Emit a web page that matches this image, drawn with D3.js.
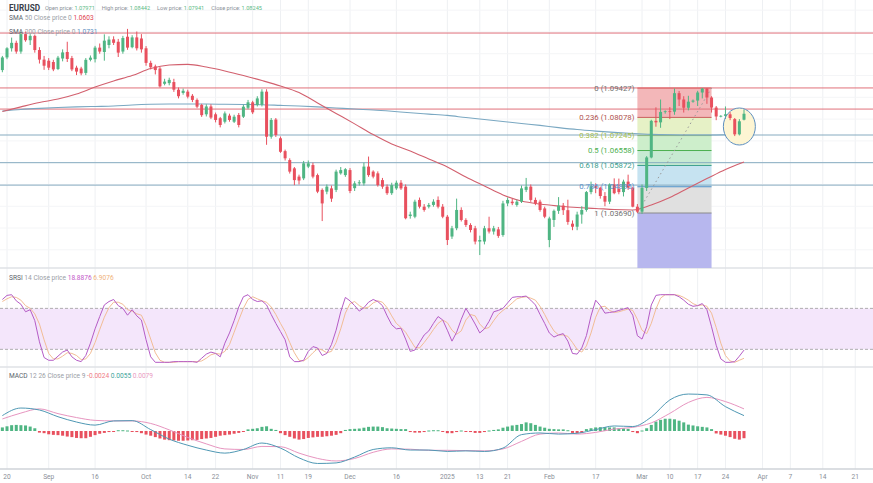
<!DOCTYPE html>
<html>
<head>
<meta charset="utf-8">
<script src="https://cdn.jsdelivr.net/npm/d3@7"></script>
<style>
  body { margin: 0; background: #fff; }
  svg text { font-family: Roboto, "Noto Sans", sans-serif; }
</style>
</head>
<body>
<svg id="chart" width="873" height="483"></svg>
<script>
// EURUSD daily, 19 Aug 2024 .. 28 Mar 2025

// bar calendar: weekdays, minus two closed days, plus the short Sunday sessions after the DST switch
const firstBarDate = "2024-08-19";
const holidays = ["2024-12-25", "2025-01-01"];
const sundaySessions = ["2025-03-09", "2025-03-16", "2025-03-23"];

// open, high, low, close per bar
const ohlc = [
  [1.1025,1.1090,1.1015,1.1083],[1.1083,1.1130,1.1075,1.1125],[1.1125,1.1174,1.1110,1.1150],[1.1150,1.1160,1.1100,1.1110],
  [1.1110,1.1201,1.1100,1.1190],[1.1190,1.1202,1.1155,1.1162],[1.1162,1.1190,1.1140,1.1182],[1.1182,1.1188,1.1105,1.1117],
  [1.1117,1.1130,1.1055,1.1073],[1.1073,1.1090,1.1026,1.1045],[1.1068,1.1080,1.1025,1.1036],[1.1062,1.1072,1.1020,1.1028],
  [1.1030,1.1090,1.1025,1.1082],[1.1078,1.1120,1.1065,1.1106],[1.1108,1.1155,1.1062,1.1076],[1.1080,1.1090,1.1020,1.1028],
  [1.1036,1.1045,1.1002,1.1018],[1.1032,1.1040,1.1001,1.1010],[1.1012,1.1080,1.1002,1.1072],[1.1072,1.1092,1.1065,1.1082],
  [1.1075,1.1136,1.1060,1.1128],[1.1128,1.1147,1.1100,1.1110],[1.1108,1.1189,1.1068,1.1160],[1.1140,1.1180,1.1125,1.1165],
  [1.1166,1.1180,1.1140,1.1150],[1.1155,1.1168,1.1085,1.1105],[1.1110,1.1182,1.1100,1.1172],[1.1178,1.1214,1.1118,1.1128],
  [1.1130,1.1185,1.1125,1.1175],[1.1175,1.1202,1.1115,1.1125],[1.1170,1.1190,1.1105,1.1120],[1.1125,1.1135,1.1045,1.1058],
  [1.1058,1.1068,1.1028,1.1038],[1.1042,1.1050,1.1005,1.1025],[1.1032,1.1040,1.0945,1.0950],[1.0962,1.0985,1.0955,1.0972],
  [1.0965,1.0990,1.0955,1.0980],[1.0970,1.0985,1.0925,1.0935],[1.0935,1.0945,1.0895,1.0905],[1.0920,1.0940,1.0912,1.0930],
  [1.0926,1.0935,1.0895,1.0903],[1.0907,1.0915,1.0878,1.0888],[1.0888,1.0895,1.0850,1.0857],[1.0865,1.0870,1.0810,1.0818],
  [1.0822,1.0868,1.0812,1.0858],[1.0858,1.0868,1.0800,1.0807],[1.0822,1.0830,1.0785,1.0796],[1.0804,1.0810,1.0762,1.0773],
  [1.0788,1.0835,1.0780,1.0826],[1.0816,1.0825,1.0788,1.0796],[1.0788,1.0820,1.0782,1.0811],[1.0819,1.0828,1.0762,1.0773],
  [1.0811,1.0866,1.0805,1.0857],[1.0852,1.0888,1.0845,1.0877],[1.0877,1.0884,1.0823,1.0831],[1.0865,1.0905,1.0858,1.0895],
  [1.0866,1.0937,1.0858,1.0926],[1.0926,1.0937,1.0682,1.0719],[1.0719,1.0805,1.0710,1.0796],[1.0798,1.0805,1.0718,1.0727],
  [1.0712,1.0720,1.0645,1.0650],[1.0653,1.0660,1.0610,1.0620],[1.0612,1.0620,1.0550,1.0559],[1.0574,1.0580,1.0497,1.0520],
  [1.0536,1.0545,1.0500,1.0518],[1.0528,1.0608,1.0520,1.0597],[1.0582,1.0610,1.0575,1.0597],[1.0589,1.0600,1.0528,1.0536],
  [1.0543,1.0550,1.0460,1.0467],[1.0475,1.0482,1.0332,1.0413],[1.0467,1.0500,1.0455,1.0490],[1.0482,1.0495,1.0420,1.0435],
  [1.0475,1.0568,1.0465,1.0559],[1.0551,1.0580,1.0545,1.0566],[1.0543,1.0575,1.0535,1.0570],[1.0566,1.0575,1.0460,1.0470],
  [1.0483,1.0515,1.0470,1.0505],[1.0505,1.0520,1.0495,1.0510],[1.0505,1.0600,1.0495,1.0582],[1.0582,1.0628,1.0535,1.0543],
  [1.0559,1.0565,1.0528,1.0536],[1.0551,1.0560,1.0490,1.0497],[1.0520,1.0530,1.0480,1.0490],[1.0490,1.0500,1.0452,1.0460],
  [1.0460,1.0508,1.0452,1.0497],[1.0482,1.0518,1.0475,1.0508],[1.0508,1.0520,1.0475,1.0482],[1.0490,1.0500,1.0340,1.0345],
  [1.0355,1.0375,1.0343,1.0362],[1.0352,1.0430,1.0345,1.0421],[1.0429,1.0440,1.0390,1.0398],[1.0398,1.0410,1.0375,1.0383],
  [1.0398,1.0415,1.0390,1.0406],[1.0406,1.0432,1.0398,1.0421],[1.0429,1.0445,1.0390,1.0398],[1.0398,1.0410,1.0345,1.0352],
  [1.0352,1.0360,1.0222,1.0245],[1.0261,1.0310,1.0250,1.0299],[1.0299,1.0435,1.0290,1.0383],[1.0383,1.0395,1.0330,1.0337],
  [1.0337,1.0345,1.0305,1.0314],[1.0314,1.0322,1.0280,1.0291],[1.0299,1.0310,1.0225,1.0238],[1.0238,1.0265,1.0176,1.0245],
  [1.0238,1.0310,1.0225,1.0299],[1.0299,1.0352,1.0275,1.0284],[1.0284,1.0310,1.0270,1.0299],[1.0294,1.0305,1.0255,1.0264],
  [1.0268,1.0425,1.0260,1.0413],[1.0413,1.0440,1.0400,1.0429],[1.0421,1.0435,1.0405,1.0414],[1.0406,1.0430,1.0398,1.0421],
  [1.0421,1.0495,1.0415,1.0482],[1.0475,1.0530,1.0465,1.0490],[1.0490,1.0500,1.0420,1.0429],[1.0429,1.0440,1.0405,1.0413],
  [1.0421,1.0430,1.0375,1.0383],[1.0390,1.0398,1.0345,1.0352],[1.0245,1.0352,1.0212,1.0344],[1.0337,1.0385,1.0305,1.0379],
  [1.0379,1.0442,1.0365,1.0403],[1.0403,1.0415,1.0360,1.0382],[1.0382,1.0430,1.0315,1.0328],[1.0320,1.0335,1.0290,1.0306],
  [1.0306,1.0375,1.0290,1.0362],[1.0362,1.0400,1.0320,1.0383],[1.0383,1.0470,1.0375,1.0465],[1.0465,1.0513,1.0455,1.0492],
  [1.0492,1.0505,1.0460,1.0485],[1.0485,1.0490,1.0435,1.0447],[1.0447,1.0465,1.0400,1.0421],[1.0421,1.0505,1.0410,1.0500],
  [1.0500,1.0528,1.0455,1.0460],[1.0480,1.0527,1.0455,1.0465],[1.0465,1.0522,1.0445,1.0513],[1.0513,1.0545,1.0475,1.0485],
  [1.0485,1.0490,1.0395,1.0398],[1.0398,1.0410,1.0369,1.0375],[1.0375,1.0500,1.0365,1.0484],[1.0484,1.0630,1.0470,1.0624],
  [1.0624,1.0797,1.0620,1.0792],[1.0792,1.0854,1.0765,1.0785],[1.0785,1.0890,1.0760,1.0833],[1.0833,1.0840,1.0825,1.0836],
  [1.0836,1.0855,1.0800,1.0834],[1.0834,1.0940,1.0820,1.0919],[1.0919,1.0929,1.0860,1.0890],[1.0890,1.0905,1.0830,1.0852],
  [1.0852,1.0907,1.0840,1.0880],[1.0880,1.0890,1.0875,1.0885],[1.0885,1.0930,1.0860,1.0922],[1.0922,1.09427,1.0895,1.0940],
  [1.0940,1.0942,1.0870,1.0899],[1.0899,1.0905,1.0830,1.0853],[1.0853,1.0860,1.0795,1.0812],[1.0812,1.0818,1.0808,1.0815],
  [1.0815,1.0858,1.0800,1.0822],[1.0822,1.0832,1.0795,1.0805],[1.0800,1.0805,1.0722,1.0730],[1.0730,1.0800,1.0725,1.0790],
  [1.07971,1.08442,1.07941,1.08245]
];

// moving averages, read at every 4th bar
const sampleEvery = 4;
const sma50 = [1.0835,1.0856,1.0876,1.0892,1.0915,1.0947,1.0975,1.1000,1.1032,1.1048,1.1051,1.1039,1.1021,1.1000,1.0977,1.0952,1.0922,1.0874,1.0826,1.0778,1.0729,1.0686,1.0654,1.0617,1.0580,1.0534,1.0493,1.0452,1.0424,1.0410,1.0401,1.0394,1.0390,1.0385,1.0383,1.0406,1.0440,1.0484,1.0527,1.0569,1.0603];
const sma200 = [1.0837,1.0844,1.0849,1.0853,1.0856,1.0858,1.0860,1.0865,1.0868,1.0869,1.0869,1.0869,1.0868,1.0867,1.0866,1.0863,1.0860,1.0856,1.0851,1.0846,1.0842,1.0836,1.0829,1.0823,1.0817,1.0807,1.0798,1.0789,1.0780,1.0771,1.0761,1.0752,1.0745,1.0739,1.0734,1.0730,1.0728,1.0727,1.0727,1.0728,1.0731];

// horizontal support / resistance lines
const levelPrices = [1.1195, 1.0943, 1.0846, 1.0727, 1.0600, 1.0497];
const levelKinds = ["res", "res", "res", "sup", "sup", "sup"];

// fibonacci retracement (28 Feb low -> 20 Mar)
const fibStartDate = "2025-02-28";
const fibEndDate = "2025-03-20";
const fibRatios = ["0", "0.236", "0.382", "0.5", "0.618", "0.786", "1"];
const fibPrices = [1.09427, 1.08078, 1.07245, 1.06558, 1.05872, 1.04895, 1.03690];

// the ring drawn round the last few candles
const ringDate = "2025-03-27";
const ringPrice = 1.0766;

// stochastic RSI, per bar
const srsiK = [93,99,100,91,86,75,78,62,31,8,4,4,10,16,19,9,4,2,11,29,50,68,85,90,93,84,80,70,78,69,63,34,9,1,1,1,1,2,2,2,2,2,1,7,13,16,14,9,29,44,62,82,97,100,93,90,91,85,71,58,46,34,9,2,2,4,17,24,22,11,14,27,48,75,96,91,84,76,81,89,93,90,84,69,56,50,51,35,17,19,30,41,47,58,68,63,48,32,45,64,80,69,57,44,50,61,75,77,80,88,96,97,97,98,92,85,71,58,44,38,41,43,32,14,13,22,40,69,92,84,73,74,75,77,79,81,70,40,35,53,85,99,100,100,100,100,97,92,86,83,84,87,78,53,26,6,1,1,2,10,18.8876];
const srsiD = [90,94,97,96,92,84,80,72,57,34,14,6,6,10,15,14,11,5,6,14,30,49,67,81,89,89,86,78,76,72,70,55,35,15,4,1,1,1,2,2,2,2,2,3,7,12,14,13,17,27,45,63,80,93,97,94,91,89,82,71,58,46,30,15,4,3,8,15,21,19,15,17,30,50,73,87,90,84,80,82,88,91,89,81,69,58,52,45,34,23,22,30,39,49,58,63,59,48,42,47,63,71,69,57,50,52,62,71,77,82,88,94,96,97,95,92,83,71,58,47,41,41,39,30,20,16,25,44,67,82,83,77,74,75,77,79,77,64,48,43,58,79,95,100,100,100,99,96,92,87,84,85,83,73,52,29,11,3,1,4,6.9076];
const srsiBand = [20, 80];

// MACD 12 26 9: lines read at every 4th bar, histogram per bar
const macdLine = [0.0055,0.0082,0.0075,0.0051,0.0032,0.0021,0.0036,0.0037,0.0005,-0.0029,-0.0051,-0.0068,-0.0079,-0.0066,-0.0043,-0.0061,-0.0096,-0.0116,-0.0114,-0.0093,-0.0066,-0.0060,-0.0068,-0.0068,-0.0073,-0.0071,-0.0073,-0.0061,-0.0013,-0.0007,-0.0011,-0.0008,0.0005,0.0018,0.0016,0.0050,0.0111,0.0132,0.0129,0.0087,0.0055];
const signalLine = [0.0043,0.0064,0.0079,0.0062,0.0048,0.0038,0.0036,0.0036,0.0027,0.0004,-0.0023,-0.0046,-0.0064,-0.0066,-0.0055,-0.0056,-0.0079,-0.0098,-0.0107,-0.0098,-0.0076,-0.0064,-0.0065,-0.0069,-0.0069,-0.0070,-0.0071,-0.0064,-0.0037,-0.0011,-0.0007,-0.0011,-0.0005,0.0007,0.0013,0.0029,0.0063,0.0102,0.0120,0.0105,0.0079];
const macdHist = [0.0011,0.0015,0.0019,0.0020,0.0019,0.0018,0.0014,0.0008,-0.0004,-0.0006,-0.0010,-0.0012,-0.0013,-0.0015,-0.0018,-0.0020,-0.0023,-0.0024,-0.0024,-0.0019,-0.0013,-0.0008,-0.0005,-0.0002,-0.0001,0.0001,0.0001,0,-0.0001,-0.0002,-0.0006,-0.0011,-0.0015,-0.0020,-0.0025,-0.0029,-0.0031,-0.0032,-0.0033,-0.0033,-0.0032,-0.0031,-0.0030,-0.0027,-0.0025,-0.0023,-0.0019,-0.0015,-0.0013,-0.0011,-0.0008,-0.0005,-0.0001,0.0004,0.0006,0.0008,0.0013,0.0015,0.0006,0.0002,-0.0006,-0.0013,-0.0019,-0.0025,-0.0029,-0.0027,-0.0023,-0.0021,-0.0019,-0.0019,-0.0017,-0.0015,-0.0012,-0.0006,0.0002,0.0005,0.0006,0.0007,0.0010,0.0013,0.0014,0.0014,0.0012,0.0008,0.0007,0.0006,0.0005,0.0005,-0.0002,-0.0004,-0.0004,-0.0002,0,0.0001,0.0001,-0.0001,-0.0006,-0.0006,-0.0002,0,-0.0001,-0.0002,-0.0005,-0.0005,-0.0002,0,0.0002,0.0004,0.0010,0.0014,0.0018,0.0020,0.0023,0.0029,0.0026,0.0020,0.0014,0.0010,0.0006,0.0005,0.0004,0.0004,0.0001,-0.0005,-0.0006,-0.0005,0.0005,0.0008,0.0011,0.0012,0.0012,0.0011,0.0011,0.0008,0.0008,0.0006,-0.0002,-0.0006,0,0.0008,0.0020,0.0032,0.0038,0.0042,0.0042,0.0040,0.0035,0.0029,0.0021,0.0018,0.0015,0.0013,0.0011,0.0005,-0.0007,-0.0011,-0.0015,-0.0020,-0.0026,-0.0029,-0.0024];

// time axis
const tickDates = ["2024-08-20","2024-09-01","2024-09-16","2024-10-01","2024-10-14","2024-10-22","2024-11-01","2024-11-11","2024-11-19","2024-12-01","2024-12-16","2025-01-01","2025-01-13","2025-01-21","2025-02-01","2025-02-17","2025-03-01","2025-03-10","2025-03-17","2025-03-24","2025-04-01","2025-04-07","2025-04-14","2025-04-21"];
const tickLabels = ["20","Sep","16","Oct","14","22","Nov","11","19","Dec","16","2025","13","21","Feb","17","Mar","10","17","24","Apr","7","14","21"];

// ---------------------------------------------------------------
const parseDate = d3.timeParse("%Y-%m-%d");
const fmtDate = d3.timeFormat("%Y-%m-%d");

// build the bar dates
const barDates = [];
for (let d = parseDate(firstBarDate); barDates.length < ohlc.length; d = d3.timeDay.offset(d, 1)) {
  const key = fmtDate(d), wd = d.getDay();
  if ((wd > 0 && wd < 6 && !holidays.includes(key)) || sundaySessions.includes(key)) barDates.push(key);
}
const last = ohlc.length - 1;

const svg = d3.select("#chart");
const W = 873;
const mainBottom = 268, srsiBottom = 367, axisY = 469;

const x = d3.scaleLinear().domain([1, last]).range([7, 744]);
const yPrice = d3.scaleLinear().domain([1.01166, 1.13466]).range([mainBottom, 0]);
const ySrsi = d3.scaleLinear().domain([0, 100]).range([363, 294.7]);
const yMacd = d3.scaleLinear().domain([0, 0.01]).range([431, 403]);

// bar position of a date; past the last bar the axis runs on in calendar days
function dateToX(key) {
  const i = barDates.findIndex(b => b >= key);
  if (i >= 0) return x(i);
  const days = d3.timeDay.count(parseDate(barDates[last]), parseDate(key));
  return x(last + days);
}

const defs = svg.append("defs");
defs.append("clipPath").attr("id", "clipMain").append("rect").attr("x", 0).attr("y", 0).attr("width", W).attr("height", mainBottom);
defs.append("clipPath").attr("id", "clipMacd").append("rect").attr("x", 0).attr("y", srsiBottom).attr("width", W).attr("height", axisY - srsiBottom);

// grid
const grid = svg.append("g");
grid.selectAll("line.v").data(tickDates).enter().append("line")
  .attr("x1", d => dateToX(d)).attr("x2", d => dateToX(d))
  .attr("y1", 0).attr("y2", axisY)
  .attr("stroke", "#eef0f3").attr("stroke-width", 1);
grid.selectAll("line.h").data(d3.range(1.02, 1.135, 0.01)).enter().append("line")
  .attr("x1", 0).attr("x2", W)
  .attr("y1", d => yPrice(d)).attr("y2", d => yPrice(d))
  .attr("stroke", "#f4f5f7");

// pane separators and time axis line
[mainBottom, srsiBottom].forEach(yy => {
  svg.append("line").attr("x1", 0).attr("x2", W).attr("y1", yy).attr("y2", yy)
    .attr("stroke", "#dfe2e6").attr("stroke-width", 1.5);
});
svg.append("line").attr("x1", 0).attr("x2", W).attr("y1", axisY).attr("y2", axisY)
  .attr("stroke", "#cfd3d8").attr("stroke-width", 1.5);

// ---------------- main pane
const gMain = svg.append("g").attr("clip-path", "url(#clipMain)");

// fibonacci zones
const fibX0 = dateToX(fibStartDate), fibX1 = dateToX(fibEndDate);
const fibFills = ["#f3b7b9", "#e6f1c6", "#cdeecb", "#c7ead3", "#c6e3f1", "#e0e0e0"];
const fibLineColors = ["#d9534f", "#c9605c", "#98bf45", "#4caf50", "#3c9e8e", "#4f92c8", "#8a8a8a"];
const fibTextColors = ["#6f6f6f", "#b0524e", "#a6bf50", "#4caf50", "#3c9e8e", "#5a8fc8", "#6f6f6f"];
fibPrices.slice(0, -1).forEach((p, k) => {
  gMain.append("rect")
    .attr("x", fibX0).attr("width", fibX1 - fibX0)
    .attr("y", yPrice(p)).attr("height", yPrice(fibPrices[k + 1]) - yPrice(p))
    .attr("fill", fibFills[k]);
});
gMain.append("rect")
  .attr("x", fibX0).attr("width", fibX1 - fibX0)
  .attr("y", yPrice(fibPrices[fibPrices.length - 1]))
  .attr("height", mainBottom - yPrice(fibPrices[fibPrices.length - 1]))
  .attr("fill", "#b7b7ee");
gMain.selectAll("line.fib").data(fibPrices).enter().append("line")
  .attr("x1", fibX0).attr("x2", fibX1)
  .attr("y1", d => yPrice(d)).attr("y2", d => yPrice(d))
  .attr("stroke", (d, k) => fibLineColors[k]).attr("stroke-width", 1);

// support / resistance lines
gMain.selectAll("line.lvl").data(levelPrices).enter().append("line")
  .attr("x1", 0).attr("x2", W)
  .attr("y1", d => yPrice(d)).attr("y2", d => yPrice(d))
  .attr("stroke", (d, k) => levelKinds[k] === "res" ? "#e0707a" : "#86abc0")
  .attr("stroke-width", 1);

// moving averages
const smaLine = d3.line().x((d, k) => x(k * sampleEvery)).y(d => yPrice(d)).curve(d3.curveMonotoneX);
gMain.append("path").attr("d", smaLine(sma200)).attr("fill", "none").attr("stroke", "#7aa8c2").attr("stroke-width", 1.1);
gMain.append("path").attr("d", smaLine(sma50)).attr("fill", "none").attr("stroke", "#d2606e").attr("stroke-width", 1.1);

// ring round the last candles (fill below the candles)
const ringX = dateToX(ringDate), ringY = yPrice(ringPrice);
gMain.append("ellipse").attr("cx", ringX).attr("cy", ringY).attr("rx", 16).attr("ry", 18.5)
  .attr("fill", "#fdf5d3");

// dotted trend line across the retracement
gMain.append("line")
  .attr("x1", fibX0).attr("y1", yPrice(fibPrices[fibPrices.length - 1]))
  .attr("x2", fibX1).attr("y2", yPrice(fibPrices[0]))
  .attr("stroke", "#9a9a9a").attr("stroke-width", 1).attr("stroke-dasharray", "1.5,3");

// candles
const upCol = "#4fb583", downCol = "#e8505e";
const candles = gMain.selectAll("g.candle").data(ohlc).enter().append("g");
candles.append("line")
  .attr("x1", (d, i) => x(i)).attr("x2", (d, i) => x(i))
  .attr("y1", d => yPrice(d[1])).attr("y2", d => yPrice(d[2]))
  .attr("stroke", d => d[3] >= d[0] ? upCol : downCol).attr("stroke-width", 1);
candles.append("rect")
  .attr("x", (d, i) => x(i) - 1.5).attr("width", 3)
  .attr("y", d => yPrice(Math.max(d[0], d[3])))
  .attr("height", d => Math.max(0.8, Math.abs(yPrice(d[0]) - yPrice(d[3]))))
  .attr("fill", d => d[3] >= d[0] ? upCol : downCol);

gMain.append("ellipse").attr("cx", ringX).attr("cy", ringY).attr("rx", 16).attr("ry", 18.5)
  .attr("fill", "none").attr("stroke", "#5d8fc0").attr("stroke-width", 1);

// fib labels
svg.selectAll("text.fib").data(fibPrices).enter().append("text")
  .attr("x", fibX0 - 3).attr("y", d => yPrice(d)).attr("dy", "0.35em")
  .attr("text-anchor", "end").attr("font-size", 7.8)
  .attr("fill", (d, k) => fibTextColors[k])
  .text((d, k) => `${fibRatios[k]} (${d.toFixed(5)})`);

// ---------------- stochastic RSI pane
const gS = svg.append("g");
gS.append("rect").attr("x", 0).attr("width", W)
  .attr("y", ySrsi(srsiBand[1])).attr("height", ySrsi(srsiBand[0]) - ySrsi(srsiBand[1]))
  .attr("fill", "#f4e6fb");
gS.selectAll("line.band").data(srsiBand).enter().append("line")
  .attr("x1", 0).attr("x2", W).attr("y1", d => ySrsi(d)).attr("y2", d => ySrsi(d))
  .attr("stroke", "#9a9a9a").attr("stroke-width", 0.8).attr("stroke-dasharray", "3,2");
const sLine = d3.line().x((d, i) => x(i)).y(d => ySrsi(d));
gS.append("path").attr("d", sLine(srsiD)).attr("fill", "none").attr("stroke", "#f2bd96").attr("stroke-width", 1);
gS.append("path").attr("d", sLine(srsiK)).attr("fill", "none").attr("stroke", "#b55cc6").attr("stroke-width", 1);

// ---------------- MACD pane
const gM = svg.append("g").attr("clip-path", "url(#clipMacd)");
gM.selectAll("rect.hist").data(macdHist).enter().append("rect")
  .attr("x", (d, i) => x(i) - 1.5).attr("width", 3)
  .attr("y", d => d >= 0 ? yMacd(d) - 0.5 : yMacd(0))
  .attr("height", d => Math.max(1, Math.abs(yMacd(d) - yMacd(0)) + 0.5))
  .attr("fill", d => d >= 0 ? "#4fb583" : "#e8505e");
const mLine = d3.line().x((d, k) => x(k * sampleEvery)).y(d => yMacd(d)).curve(d3.curveMonotoneX);
gM.append("path").attr("d", mLine(signalLine)).attr("fill", "none").attr("stroke", "#e795c0").attr("stroke-width", 1);
gM.append("path").attr("d", mLine(macdLine)).attr("fill", "none").attr("stroke", "#4f98b4").attr("stroke-width", 1);

// ---------------- time axis labels
svg.selectAll("text.tick").data(tickDates).enter().append("text")
  .attr("x", d => dateToX(d)).attr("y", 478.5)
  .attr("text-anchor", "middle").attr("font-size", 6.6).attr("fill", "#8a8f98")
  .text((d, k) => tickLabels[k]);

// ---------------- headers
function header(xx, yy, parts, size) {
  const t = svg.append("text").attr("x", xx).attr("y", yy).attr("font-size", size);
  parts.forEach(p => {
    t.append("tspan").attr("fill", p[1]).attr("font-weight", p[2] || null).text(p[0]);
  });
  return t;
}
const lastBar = ohlc[last];
header(9, 10.5, [["EURUSD", "#3a3f4a", "bold"]], 8.2);
header(45, 10, [
  ["Open price: ", "#8a8f98"], [lastBar[0].toFixed(5), "#5dbb86"],
  ["     High price: ", "#8a8f98"], [lastBar[1].toFixed(5), "#5dbb86"],
  ["     Low price: ", "#8a8f98"], [lastBar[2].toFixed(5), "#5dbb86"],
  ["     Close price: ", "#8a8f98"], [lastBar[3].toFixed(5), "#5dbb86"]
], 5.6).attr("xml:space", "preserve");
header(9, 20, [["SMA ", "#5a5f6a"], ["50 Close price 0 ", "#9a9ea6"], [sma50[sma50.length - 1].toFixed(4), "#e0404f"]], 6.6);
header(9, 33.5, [["SMA ", "#5a5f6a"], ["200 Close price 0 ", "#9a9ea6"], [sma200[sma200.length - 1].toFixed(4), "#5f8fbf"]], 6.6);
header(9, 280, [["SRSI ", "#5a5f6a"], ["14 Close price ", "#9a9ea6"],
  [srsiK[last].toFixed(4), "#c45bc9"], [" " + srsiD[last].toFixed(4), "#f0b27a"]], 6.6);
header(9, 377.5, [["MACD ", "#5a5f6a"], ["12 26 Close price 9 ", "#9a9ea6"],
  [macdHist[last].toFixed(4), "#ef7a86"], [" " + macdLine[macdLine.length - 1].toFixed(4), "#3aa39a"],
  [" " + signalLine[signalLine.length - 1].toFixed(4), "#e99abf"]], 6.6);
</script>
</body>
</html>
